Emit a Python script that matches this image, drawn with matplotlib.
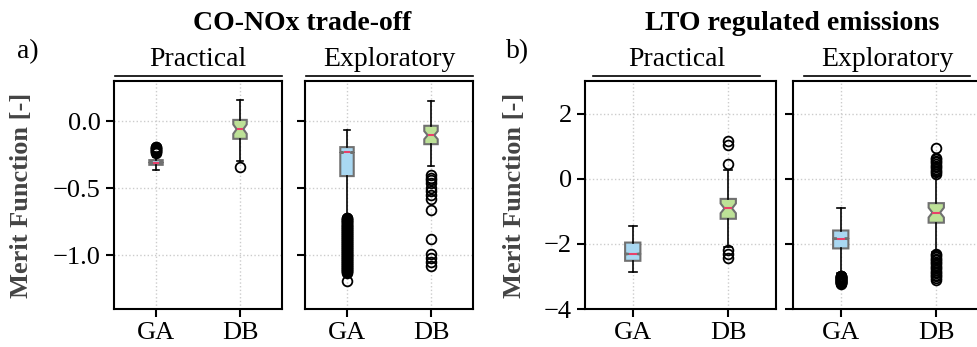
import matplotlib.pyplot as plt
from matplotlib.lines import Line2D

plt.rcParams['font.family'] = ['Liberation Serif', 'DejaVu Serif']

methods = ['GA', 'DB']
studies = ['Practical', 'Exploratory']

# (q1, med, q3, whislo, whishi, cilo, cihi)
a_prac_ga = (-0.325, -0.308, -0.290, -0.36, -0.27, -0.313, -0.303)
a_prac_db = (-0.131, -0.059, 0.010, -0.30, 0.161, -0.094, -0.024)
a_expl_ga = (-0.409, -0.233, -0.193, -0.71, -0.062, -0.238, -0.228)
a_expl_db = (-0.171, -0.104, -0.034, -0.334, 0.154, -0.134, -0.074)
b_prac_ga = (-2.52, -2.31, -1.96, -2.85, -1.45, -2.33, -2.29)
b_prac_db = (-1.23, -0.91, -0.62, -2.10, 0.27, -1.06, -0.76)
b_expl_ga = (-2.14, -1.84, -1.59, -2.90, -0.91, -1.86, -1.82)
b_expl_db = (-1.35, -1.04, -0.75, -2.25, 0.12, -1.19, -0.89)

a_prac_ga_fl = [-0.19, -0.195, -0.20, -0.205, -0.21, -0.215, -0.22, -0.225,
                -0.23, -0.235]
a_prac_db_fl = [-0.34]
a_expl_ga_fl = [-0.720, -0.725, -0.730, -0.735, -0.740, -0.745, -0.750, -0.755,
                -0.760, -0.765, -0.770, -0.775, -0.780, -0.785, -0.790, -0.795,
                -0.800, -0.805, -0.810, -0.815, -0.820, -0.825, -0.830, -0.835,
                -0.840, -0.845, -0.850, -0.855, -0.860, -0.865, -0.870, -0.875,
                -0.880, -0.885, -0.890, -0.895, -0.900, -0.905, -0.910, -0.915,
                -0.920, -0.925, -0.930, -0.935, -0.940, -0.945, -0.950, -0.955,
                -0.960, -0.965, -0.970, -0.975, -0.980, -0.985, -0.990, -0.995,
                -1.000, -1.005, -1.010, -1.015, -1.020, -1.025, -1.030, -1.035,
                -1.040, -1.045, -1.050, -1.055, -1.060, -1.065, -1.070, -1.075,
                -1.080, -1.085, -1.090, -1.095, -1.100, -1.105, -1.110, -1.115,
                -1.120, -1.125, -1.130, -1.190]
a_expl_db_fl = [-0.40, -0.42, -0.44, -0.46, -0.50, -0.52, -0.55, -0.58, -0.66,
                -0.88, -0.99, -1.02, -1.05, -1.08]
b_prac_ga_fl = []
b_prac_db_fl = [1.16, 1.03, 0.44, -2.18, -2.30, -2.42]
b_expl_ga_fl = [-2.98, -2.99, -3.00, -3.01, -3.02, -3.03, -3.04, -3.05, -3.06,
                -3.07, -3.08, -3.09, -3.10, -3.11, -3.12, -3.13, -3.14, -3.15,
                -3.16, -3.17, -3.18, -3.19, -3.20, -3.21, -3.22]
b_expl_db_fl = [0.95, 0.65, 0.60, 0.55, 0.50, 0.45, 0.40, 0.35, 0.30, 0.25, 0.20,
                0.16, -2.30, -2.35, -2.40, -2.45, -2.50, -2.55, -2.60, -2.65,
                -2.70, -2.75, -2.80, -2.85, -2.90, -2.95, -3.00, -3.05, -3.10]

box_colors = ['#a9d8f2', '#bde197']
median_color = '#e8406a'


def make_stats(s, fl):
    q1, med, q3, lo, hi, cilo, cihi = s
    return dict(q1=q1, med=med, q3=q3, whislo=lo, whishi=hi,
                cilo=cilo, cihi=cihi, fliers=fl, mean=med)


def draw(ax, stats_list):
    bp = ax.bxp(stats_list, positions=[1, 2], widths=0.16, shownotches=True,
                patch_artist=True, showfliers=True,
                boxprops=dict(edgecolor='#707070', linewidth=1.5),
                medianprops=dict(color=median_color, linewidth=1.5),
                whiskerprops=dict(color='black', linewidth=1.2),
                capprops=dict(color='black', linewidth=1.2),
                flierprops=dict(marker='o', markerfacecolor='none',
                                markeredgecolor='black', markersize=7,
                                markeredgewidth=1.3))
    for patch, c in zip(bp['boxes'], box_colors):
        patch.set_facecolor(c)
    ax.set_xlim(0.5, 2.5)
    ax.set_xticks([1, 2])
    ax.set_xticklabels(methods)
    ax.grid(True, linestyle=':', color='#cccccc', linewidth=1)
    ax.set_axisbelow(True)
    ax.tick_params(direction='out', length=6, width=1.5, labelsize=19)
    for sp in ax.spines.values():
        sp.set_linewidth(1.5)


W, H = 977, 347
fig = plt.figure(figsize=(W / 100, H / 100), dpi=100)

bot = (H - 309) / H
hgt = 228 / H
ax_a1 = fig.add_axes([114 / W, bot, 168 / W, hgt])
ax_a2 = fig.add_axes([305 / W, bot, 168 / W, hgt])
ax_b1 = fig.add_axes([585 / W, bot, 191 / W, hgt])
ax_b2 = fig.add_axes([793 / W, bot, 191 / W, hgt])

draw(ax_a1, [make_stats(a_prac_ga, a_prac_ga_fl), make_stats(a_prac_db, a_prac_db_fl)])
draw(ax_a2, [make_stats(a_expl_ga, a_expl_ga_fl), make_stats(a_expl_db, a_expl_db_fl)])
draw(ax_b1, [make_stats(b_prac_ga, b_prac_ga_fl), make_stats(b_prac_db, b_prac_db_fl)])
draw(ax_b2, [make_stats(b_expl_ga, b_expl_ga_fl), make_stats(b_expl_db, b_expl_db_fl)])

for ax in (ax_a1, ax_a2):
    ax.set_ylim(-1.4, 0.3)
    ax.set_yticks([-1.0, -0.5, 0.0])
for ax in (ax_b1, ax_b2):
    ax.set_ylim(-4, 3)
    ax.set_yticks([-4, -2, 0, 2])
ax_a1.set_yticklabels(['\u22121.0', '\u22120.5', '0.0'])
ax_b1.set_yticklabels(['\u22124', '\u22122', '0', '2'])
ax_a2.set_yticklabels([])
ax_b2.set_yticklabels([])

# column headers with underline
line_len = 167 / W
centers = [198 / W, 389 / W, 676.5 / W, 887 / W]
for cx, name in zip(centers, studies * 2):
    fig.text(cx, 1 - 66 / H, name, ha='center', va='baseline', fontsize=20)
    fig.add_artist(Line2D([cx - line_len / 2, cx + line_len / 2],
                          [1 - 75.5 / H, 1 - 75.5 / H], color='black', linewidth=1.2))

fig.text(302.5 / W, 1 - 23 / H, 'CO-NOx trade-off', ha='center', va='center',
         fontsize=20, fontweight='bold')
fig.text(791.7 / W, 1 - 23 / H, 'LTO regulated emissions', ha='center', va='center',
         fontsize=20, fontweight='bold')
fig.text(17 / W, 1 - 52 / H, 'a)', ha='left', va='center', fontsize=20)
fig.text(506 / W, 1 - 52 / H, 'b)', ha='left', va='center', fontsize=20)

fig.text(21.7 / W, 1 - 195.8 / H, 'Merit Function [-]', rotation=90, ha='center',
         va='center', fontsize=19, fontweight='bold', color='#444444')
fig.text(515 / W, 1 - 195.8 / H, 'Merit Function [-]', rotation=90, ha='center',
         va='center', fontsize=19, fontweight='bold', color='#444444')

fig.savefig('out.png', dpi=100)
